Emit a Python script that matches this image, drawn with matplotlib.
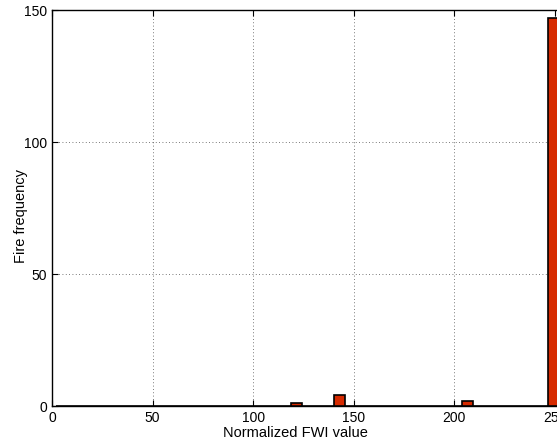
import numpy as np
import matplotlib.pyplot as plt

# histogram of normalized FWI values (47 bins)
bin_start = 1.8
bin_width = 5.32
counts = [0] * 47
counts[22] = 1
counts[26] = 4
counts[38] = 2
counts[46] = 147

xticks = [0, 50, 100, 150, 200, 250]
yticks = [0, 50, 100, 150]

plt.rcParams['font.family'] = ['Liberation Sans', 'DejaVu Sans']
plt.rcParams['font.size'] = 10

fig = plt.figure(figsize=(5.57, 4.41), dpi=100)
# axes run past the right edge, as in the cropped original
ax = fig.add_axes([52 / 557, 35 / 441, 603.6 / 557, 396 / 441])

lefts = bin_start + bin_width * np.arange(len(counts))
ax.bar(lefts, counts, width=bin_width, align='edge', color='#d62a00',
       edgecolor='black', linewidth=1.2, zorder=3)

ax.set_xlim(0, 300)
ax.set_ylim(0, 150)
ax.set_xticks(xticks)
ax.set_yticks(yticks)
ax.grid(True, linestyle=(0, (1, 3)), color='black', linewidth=0.6, alpha=0.7)
ax.tick_params(direction='in', length=4, top=True, right=True, width=0.8)
for s in ax.spines.values():
    s.set_linewidth(1.0)

ax.set_xlabel('Normalized FWI value', fontsize=10.5)
ax.set_ylabel('Fire frequency', fontsize=10.5)
ax.xaxis.set_label_coords(0.404, -0.05)
ax.yaxis.set_label_coords(-0.04, 0.48)

fig.savefig('out.png', dpi=100)
